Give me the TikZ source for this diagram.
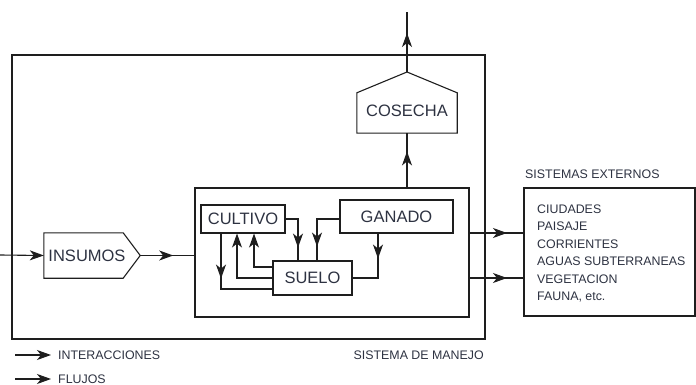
\documentclass[tikz,border=0pt]{standalone}
\usepackage{fontspec}
\setmainfont{Liberation Sans}
\usetikzlibrary{arrows.meta,decorations.markings,calc}
\definecolor{txt}{RGB}{45,50,65}
\definecolor{ln}{RGB}{30,30,30}
\begin{document}
\begin{tikzpicture}[x=1pt,y=-1pt,
 every node/.style={text=txt,font=\fontsize{12.4}{14}\selectfont},
 bigtxt/.style={font=\fontsize{16.5}{18}\selectfont},
 box/.style={draw=ln,line width=1.1pt,inner sep=0pt,bigtxt},
 frame/.style={draw=ln,line width=1.1pt,inner sep=0pt},
 conn/.style={draw=ln,line width=1.1pt},
 endtip/.style={-{Stealth[length=14pt,width=10pt,inset=4pt]}},
 midtip/.style={postaction={decorate},decoration={markings,mark=at position #1 with {\arrow{Stealth[length=14pt,width=10pt,inset=4pt]}}}}
]
\useasboundingbox (0,0) rectangle (696,385);

% frames
\node[frame,minimum width=473pt,minimum height=284pt] (manejo) at (248.5,197) {};
\node[frame,minimum width=274pt,minimum height=129pt] (inner) at (332,252.5) {};
\node[frame,minimum width=171pt,minimum height=128pt] (ext) at (609.5,252) {};

% boxes
\node[box,minimum width=84pt,minimum height=28pt] (cultivo) at (243,219) {CULTIVO};
\node[box,minimum width=113pt,minimum height=33pt] (ganado) at (396.5,216.5) {GANADO};
\node[box,minimum width=79pt,minimum height=34pt] (suelo) at (312.5,278) {SUELO};

% insumos (pointing right)
\node[inner sep=0pt,bigtxt,minimum width=96pt,minimum height=45pt] (insumos) at (92,255.5) {\hspace*{-10pt}INSUMOS};
\draw[conn] (insumos.north west) -- ($(insumos.north east)+(-17,0)$) -- (insumos.east)
  -- ($(insumos.south east)+(-17,0)$) -- (insumos.south west) -- cycle;

% cosecha (pointing up)
\node[inner sep=0pt,bigtxt,minimum width=100pt,minimum height=40pt] (cosecha) at (407,113) {\raisebox{5pt}{COSECHA}};
\coordinate (apex) at (407,72);
\draw[conn] (cosecha.south west) -- (cosecha.north west) -- (apex) -- (cosecha.north east)
  -- (cosecha.south east) -- cycle;

% external list
\node[anchor=south west,inner sep=0pt] (exttitle) at (525,179) {SISTEMAS EXTERNOS};
\node[anchor=west,align=left,inner sep=0pt,font=\fontsize{12.4}{17.4}\selectfont] (extlist) at (537,253.5)
 {CIUDADES\\PAISAJE\\CORRIENTES\\AGUAS SUBTERRANEAS\\VEGETACION\\FAUNA, etc.};
\node[anchor=east,inner sep=0pt] (manejolbl) at (484,355) {SISTEMA DE MANEJO};

% coordinates
\coordinate (src) at (0,255);
\coordinate (top) at (407,12);

% main flows
\draw[conn,endtip] (src) -- (insumos.west);
\draw[conn,midtip=33pt] (insumos.east) -- (inner.west |- insumos.east);
\draw[conn,midtip=36pt] (inner.north -| apex) -- (cosecha.south -| apex);
\draw[conn,midtip=39pt] (apex) -- (top);
\draw[conn,midtip=38pt] (469,233) -- (ext.west |- 0,233);
\draw[conn,midtip=38pt] (469,278) -- (ext.west |- 0,278);

% interactions inside
\draw[conn,midtip=41pt] (cultivo.east |- 0,219) -- (298,219) -- (suelo.north -| 298,0);
\draw[conn,midtip=50pt] (ganado.west |- 0,219) -- (317,219) -- (suelo.north -| 317,0);
\draw[conn,midtip=25pt] (ganado.south -| 378,0) -- (378,278) -- (suelo.east);
\draw[conn,midtip=45pt] (cultivo.south -| 221,0) -- (221,289) -- (suelo.west |- 0,289);
\draw[conn,endtip] (suelo.west |- 0,278) -- (237,278) -- (cultivo.south -| 237,0);
\draw[conn,endtip] (suelo.west |- 0,267) -- (254,267) -- (cultivo.south -| 254,0);

% legend
\coordinate (l1a) at (15,355); \coordinate (l1b) at (51,355);
\coordinate (l2a) at (15,379); \coordinate (l2b) at (51,379);
\draw[conn,endtip] (l1a) -- (l1b);
\draw[conn,endtip] (l2a) -- (l2b);
\node[anchor=west,inner sep=0pt] (leg1) at (58,355) {INTERACCIONES};
\node[anchor=west,inner sep=0pt] (leg2) at (58,379) {FLUJOS};
\end{tikzpicture}
\end{document}
